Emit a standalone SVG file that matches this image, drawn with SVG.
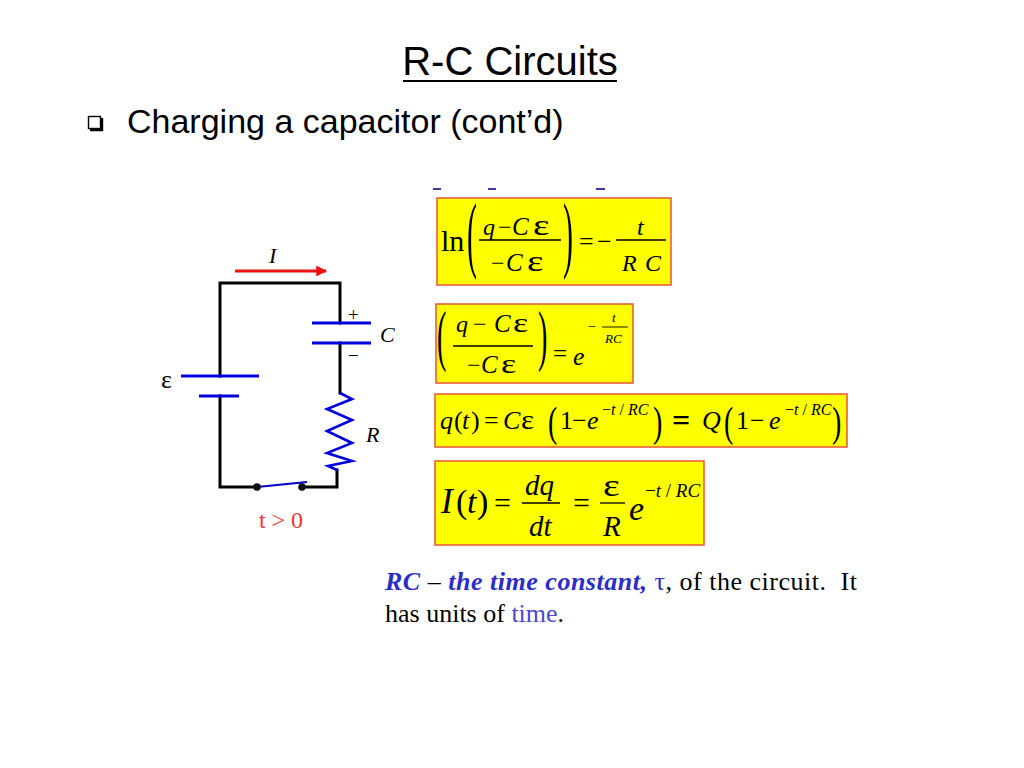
<svg xmlns="http://www.w3.org/2000/svg" width="1024" height="768" viewBox="0 0 1024 768">
<defs>
<style>
.sans{font-family:"Liberation Sans",Arial,sans-serif;fill:#000}
.s{font-family:"Liberation Serif","Times New Roman",serif;fill:#000}
.i{font-family:"Liberation Serif","Times New Roman",serif;font-style:italic;fill:#000}
.box{fill:#ffff00;stroke:#e8603c;stroke-width:1.6}
.wire{stroke:#000;stroke-width:3;fill:none;stroke-linecap:square}
.plate{stroke:#0000dd;stroke-width:3.2;fill:none}
.frac{stroke:#000;stroke-width:1.3}
</style>
<marker id="arr" viewBox="0 0 10 10" refX="9" refY="5" markerWidth="4.2" markerHeight="3.6" orient="auto" markerUnits="strokeWidth"><path d="M0,0 L10,5 L0,10 z" fill="#ee1111"/></marker>
</defs>
<rect width="1024" height="768" fill="#fff"/>

<g id="title">
<text class="sans" x="510" y="75" font-size="40" text-anchor="middle">R-C Circuits</text>
<line x1="403" y1="81" x2="617" y2="81" stroke="#000" stroke-width="2"/>
</g>
<g id="bullet">
<rect x="88.5" y="116.5" width="12" height="12" fill="none" stroke="#000" stroke-width="1.4"/>
<path d="M102,118 V130 H90" fill="none" stroke="#000" stroke-width="2.4"/>
<text class="sans" x="127" y="133" font-size="34">Charging a capacitor (cont’d)</text>
</g>

<g id="fragments" stroke="#3a3aa8" stroke-width="2">
<line x1="433" y1="189" x2="441" y2="189"/>
<line x1="488" y1="189" x2="496" y2="189"/>
<line x1="596" y1="189" x2="605" y2="189"/>
</g>

<g id="connectors">
<path class="wire" d="M220,376 V283 H340 V323"/>
<path class="wire" d="M340,343 V393"/>
<path class="wire" d="M220,396 V487 H257"/>
<path class="wire" d="M302,487 H337 V470"/>
<line x1="235" y1="271" x2="326" y2="271" stroke="#ee1111" stroke-width="3" marker-end="url(#arr)"/>
</g>

<g id="battery">
<line class="plate" x1="181" y1="376" x2="259" y2="376"/>
<line class="plate" x1="199" y1="396" x2="239" y2="396"/>
<text class="s" x="161" y="388" font-size="26">ε</text>
</g>
<g id="capacitor">
<line class="plate" x1="312" y1="323" x2="371" y2="323"/>
<line class="plate" x1="312" y1="343" x2="371" y2="343"/>
<text class="s" x="348" y="321" font-size="19">+</text>
<text class="s" x="348" y="362" font-size="19">−</text>
<text class="i" x="380" y="342" font-size="22">C</text>
</g>
<g id="resistor">
<polyline points="340,393 352,399 327,409 352,420 327,431 352,443 327,453 352,461 328,466 337,470" fill="none" stroke="#0000dd" stroke-width="2.6" stroke-linejoin="miter"/>
<text class="i" x="366" y="442" font-size="22">R</text>
</g>
<g id="switch">
<line x1="257" y1="487" x2="307" y2="482" stroke="#0000cc" stroke-width="2"/>
<circle cx="257" cy="487" r="3.8" fill="#111"/>
<circle cx="302" cy="487" r="3.8" fill="#111"/>
<text class="s" x="281" y="528" font-size="24" text-anchor="middle" style="fill:#ee3333">t &gt; 0</text>
</g>
<g id="current">
<text class="i" x="269" y="263" font-size="22">I</text>
</g>

<g id="eq1">
<rect class="box" x="437" y="198" width="234" height="87"/>
<text class="s" x="441" y="251" font-size="30">ln</text>
<text class="s" font-size="30" transform="translate(467,262) scale(1,2.8)">(</text>
<text class="i" x="483" y="235" font-size="24">q</text>
<text class="s" x="498" y="235" font-size="24">−</text>
<text class="i" x="512" y="235" font-size="25">C</text>
<text class="s" font-size="30" transform="translate(533,235) scale(1.3,1)">ε</text>
<line class="frac" x1="479" y1="240" x2="561" y2="240"/>
<text class="s" x="491" y="271" font-size="24">−</text>
<text class="i" x="506" y="271" font-size="25">C</text>
<text class="s" font-size="30" transform="translate(527,271) scale(1.3,1)">ε</text>
<text class="s" font-size="30" transform="translate(563,262) scale(1,2.8)">)</text>
<text class="s" x="579" y="250" font-size="26">=</text>
<text class="s" x="597" y="250" font-size="26">−</text>
<text class="i" x="637" y="235" font-size="24">t</text>
<line class="frac" x1="616" y1="240" x2="666" y2="240"/>
<text class="i" x="622" y="271" font-size="24">R</text>
<text class="i" x="645" y="271" font-size="24">C</text>
</g>

<g id="eq2">
<rect class="box" x="436" y="304" width="197" height="79"/>
<text class="s" font-size="28" transform="translate(437,358) scale(1,2.4)">(</text>
<text class="i" x="456" y="332" font-size="24">q</text>
<text class="s" x="473" y="332" font-size="24">−</text>
<text class="i" x="494" y="332" font-size="25">C</text>
<text class="s" font-size="28" transform="translate(513,332) scale(1.3,1)">ε</text>
<line class="frac" x1="453" y1="346" x2="533" y2="346"/>
<text class="s" x="467" y="373" font-size="24">−</text>
<text class="i" x="481" y="373" font-size="25">C</text>
<text class="s" font-size="28" transform="translate(501,373) scale(1.3,1)">ε</text>
<text class="s" font-size="28" transform="translate(538,358) scale(1,2.4)">)</text>
<text class="s" x="553" y="362" font-size="25">=</text>
<text class="i" x="573" y="365" font-size="26">e</text>
<text class="s" x="588" y="331" font-size="14">−</text>
<text class="i" x="612" y="322" font-size="13">t</text>
<line x1="602" y1="327" x2="628" y2="327" stroke="#000" stroke-width="0.9"/>
<text class="i" x="605" y="343" font-size="13">RC</text>
</g>

<g id="eq3">
<rect class="box" x="435" y="394" width="412" height="53"/>
<text class="i" x="440" y="429" font-size="26">q</text>
<text class="s" x="454" y="429" font-size="26">(</text>
<text class="i" x="462" y="429" font-size="26">t</text>
<text class="s" x="471" y="429" font-size="26">)</text>
<text class="s" x="484" y="429" font-size="26">=</text>
<text class="i" x="503" y="429" font-size="26">C</text>
<text class="s" font-size="27" transform="translate(521,429) scale(1.15,1)">ε</text>
<text class="s" font-size="28" transform="translate(548,436) scale(1,1.5)">(</text>
<text class="s" x="560" y="429" font-size="26">1</text>
<text class="s" x="572" y="429" font-size="26">−</text>
<text class="i" x="587" y="429" font-size="26">e</text>
<text x="602" y="415" font-size="16"><tspan class="s">−</tspan><tspan class="i">t</tspan><tspan class="s"> / </tspan><tspan class="i">RC</tspan></text>
<text class="s" font-size="28" transform="translate(653,436) scale(1,1.5)">)</text>
<text class="s" x="672" y="431" font-size="32" font-weight="bold">=</text>
<text class="i" x="702" y="429" font-size="26">Q</text>
<text class="s" font-size="28" transform="translate(724,436) scale(1,1.5)">(</text>
<text class="s" x="736" y="429" font-size="26">1</text>
<text class="s" x="750" y="429" font-size="26">−</text>
<text class="i" x="769" y="429" font-size="26">e</text>
<text x="785" y="415" font-size="16"><tspan class="s">−</tspan><tspan class="i">t</tspan><tspan class="s"> / </tspan><tspan class="i">RC</tspan></text>
<text class="s" font-size="28" transform="translate(832,436) scale(1,1.5)">)</text>
</g>

<g id="eq4">
<rect class="box" x="435" y="461" width="269" height="84"/>
<text class="i" x="441" y="513" font-size="35">I</text>
<text class="s" x="456" y="513" font-size="34">(</text>
<text class="i" x="467" y="513" font-size="34">t</text>
<text class="s" x="477" y="513" font-size="34">)</text>
<text class="s" x="494" y="513" font-size="30">=</text>
<text class="i" x="525" y="495" font-size="29">dq</text>
<line class="frac" x1="522" y1="503" x2="560" y2="503"/>
<text class="i" x="529" y="536" font-size="29">dt</text>
<text class="s" x="573" y="513" font-size="30">=</text>
<text class="s" font-size="32" transform="translate(603,496) scale(1.25,1)">ε</text>
<line class="frac" x1="600" y1="503" x2="625" y2="503"/>
<text class="i" x="603" y="536" font-size="29">R</text>
<text class="i" x="629" y="520" font-size="34">e</text>
<text x="645" y="497" font-size="19"><tspan class="s">−</tspan><tspan class="i">t</tspan><tspan class="s"> / </tspan><tspan class="i">RC</tspan></text>
</g>

<g id="note">
<text x="385" y="590" font-size="26" class="s" textLength="472" lengthAdjust="spacing"><tspan font-weight="bold" font-style="italic" style="fill:#2c2cc8">RC</tspan><tspan> – </tspan><tspan font-weight="bold" font-style="italic" style="fill:#2c2cc8">the time constant, </tspan><tspan style="fill:#2c2cc8">τ</tspan><tspan>, of the circuit.&#160; It</tspan></text>
<text x="385" y="622" font-size="26" class="s">has units of <tspan style="fill:#4a4ac8">time</tspan>.</text>
</g>
</svg>
